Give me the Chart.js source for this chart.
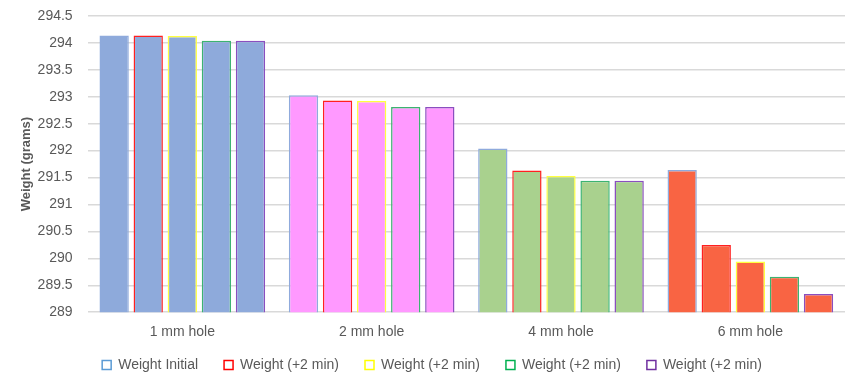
<!DOCTYPE html>
<html>
<head>
<meta charset="utf-8">
<script src="https://cdn.jsdelivr.net/npm/chart.js@4"></script>
<style>
  html, body { margin: 0; padding: 0; background: #fff; }
  #wrap { width: 845px; height: 375px; }
</style>
</head>
<body>
<div id="wrap"><canvas id="weightChart"></canvas></div>
<script>
// chart data
const holes = ['1 mm hole', '2 mm hole', '4 mm hole', '6 mm hole'];
const seriesNames = ['Weight Initial', 'Weight (+2 min)', 'Weight (+2 min)', 'Weight (+2 min)', 'Weight (+2 min)'];
const weightInitial = [294.14, 293.03, 292.04, 291.64];
const weight2 = [294.14, 292.93, 291.63, 290.25];
const weight4 = [294.13, 292.92, 291.53, 289.94];
const weight6 = [294.04, 292.81, 291.44, 289.66];
const weight8 = [294.04, 292.81, 291.44, 289.34];

const holeFills = ['#8eaadb', '#ff99ff', '#a9d18e', '#f96443'];
const seriesBorders = ['#8faadc', '#ff2020', '#ffff40', '#3cb371', '#8a4fbf'];
const legendBorders = ['#5b9bd5', '#ff0000', '#ffff00', '#00b050', '#7030a0'];

const seriesData = [weightInitial, weight2, weight4, weight6, weight8];

const textColor = '#595959';
const fontFamily = "'Liberation Sans', Arial, sans-serif";

// legend padding is wide between items, so shrink its box height and pull it up
const legendShrink = 20;
const legendLift = 13;
const legendTweak = {
    id: 'legendTweak',
    beforeInit(chart) {
        const lg = chart.legend;
        const origFit = lg.fit;
        lg.fit = function () {
            origFit.call(this);
            this.height -= legendShrink;
        };
        const origDraw = lg.draw;
        lg.draw = function () {
            const top = this.top;
            this.top = top - legendLift;
            origDraw.call(this);
            this.top = top;
        };
    }
};

var ctx = document.getElementById('weightChart').getContext('2d');

var weightChart = new Chart(ctx, {
    type: 'bar',
    data: {
        labels: holes,
        datasets: seriesData.map((vals, i) => ({
            label: seriesNames[i],
            data: vals,
            backgroundColor: holeFills,
            borderColor: seriesBorders[i],
            borderWidth: 1.5,
            borderSkipped: false
        }))
    },
    plugins: [legendTweak],
    options: {
        responsive: true,
        maintainAspectRatio: false,
        animation: false,
        layout: { padding: { left: 19, right: 0, top: 0, bottom: 0 } },
        datasets: {
            bar: { categoryPercentage: 0.9, barPercentage: 0.86 }
        },
        plugins: {
            tooltip: { enabled: false },
            legend: {
                position: 'bottom',
                labels: {
                    color: textColor,
                    font: { family: fontFamily, size: 14 },
                    boxWidth: 9,
                    boxHeight: 9,
                    padding: 26,
                    generateLabels: (chart) => chart.data.datasets.map((ds, i) => ({
                        text: ds.label,
                        fillStyle: '#ffffff',
                        strokeStyle: legendBorders[i],
                        lineWidth: 1.5,
                        fontColor: textColor,
                        datasetIndex: i,
                        hidden: false
                    }))
                }
            }
        },
        scales: {
            x: {
                grid: { display: false },
                border: { display: false },
                ticks: {
                    color: textColor,
                    font: { family: fontFamily, size: 14 },
                    padding: 4
                }
            },
            y: {
                min: 289,
                max: 294.5,
                afterFit: (scale) => { scale.paddingTop = 16; },
                ticks: {
                    stepSize: 0.5,
                    color: textColor,
                    font: { family: fontFamily, size: 14 },
                    padding: 15,
                    callback: (v) => String(v)
                },
                grid: { color: '#d9d9d9', lineWidth: 1.5, drawTicks: false },
                border: { display: false },
                title: {
                    display: true,
                    text: 'Weight (grams)',
                    color: textColor,
                    font: { family: fontFamily, size: 13, weight: 'bold' },
                    padding: { top: 0, bottom: -12 }
                }
            }
        }
    }
});
</script>
</body>
</html>
